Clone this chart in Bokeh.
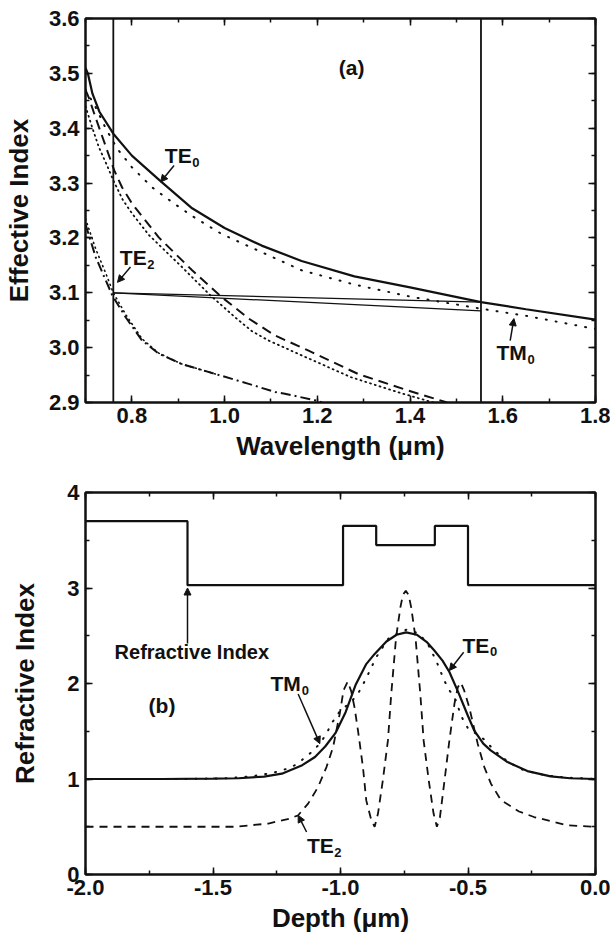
from bokeh.plotting import figure
from bokeh.layouts import column
from bokeh.models import (LinearAxis, SingleIntervalTicker, Range1d, Span, Label,
                          Arrow, NormalHead, NumeralTickFormatter, CustomJSTickFormatter)
from bokeh.embed import file_html
from bokeh.resources import INLINE

# ---------------- panel (a): effective index vs wavelength ----------------
te0_wl = [0.70, 0.705, 0.715, 0.73, 0.76, 0.80, 0.86, 0.93, 1.00, 1.08, 1.166, 1.28, 1.40, 1.553, 1.65, 1.80]
te0_n = [3.51, 3.50, 3.463, 3.43, 3.39, 3.35, 3.305, 3.254, 3.218, 3.186, 3.158, 3.13, 3.11, 3.083, 3.07, 3.051]

tm0_wl = [0.70, 0.722, 0.744, 0.769, 0.801, 0.844, 0.887, 0.93, 0.994, 1.08, 1.166, 1.28, 1.40, 1.553, 1.65, 1.80]
tm0_n = [3.47, 3.438, 3.399, 3.362, 3.328, 3.292, 3.265, 3.24, 3.207, 3.174, 3.141, 3.115, 3.093, 3.071, 3.058, 3.034]

te1_wl = [0.70, 0.708, 0.719, 0.729, 0.762, 0.779, 0.801, 0.858, 0.93, 0.994, 1.052, 1.109, 1.18, 1.288, 1.395, 1.48]
te1_n = [3.47, 3.454, 3.426, 3.402, 3.323, 3.292, 3.262, 3.201, 3.141, 3.092, 3.053, 3.022, 2.995, 2.952, 2.922, 2.90]

tm1_wl = [0.70, 0.715, 0.729, 0.745, 0.76, 0.78, 0.80, 0.837, 0.908, 0.966, 1.023, 1.059, 1.095, 1.166, 1.273, 1.381, 1.45]
tm1_n = [3.44, 3.40, 3.365, 3.335, 3.305, 3.27, 3.245, 3.205, 3.147, 3.098, 3.055, 3.03, 3.013, 2.986, 2.946, 2.917, 2.90]

te2_wl = [0.70, 0.722, 0.744, 0.758, 0.787, 0.822, 0.858, 0.908, 0.98, 1.052, 1.109, 1.13, 1.195, 1.21]
te2_n = [3.225, 3.165, 3.122, 3.095, 3.055, 3.013, 2.989, 2.970, 2.952, 2.934, 2.919, 2.916, 2.904, 2.90]

tm2_wl = [0.70, 0.722, 0.744, 0.76, 0.787, 0.822, 0.858, 0.908, 0.98]
tm2_n = [3.235, 3.18, 3.135, 3.10, 3.06, 3.016, 2.99, 2.970, 2.952]

thin_a_wl = [0.76, 1.553]
thin_a_n = [3.100, 3.083]
thin_b_wl = [0.76, 1.553]
thin_b_n = [3.100, 3.067]

marker_wavelengths = [0.76, 1.553]

# ---------------- panel (b): refractive index / fields vs depth ----------------
profile_depth = [-2.0, -1.6, -1.6, -0.99, -0.99, -0.86, -0.86, -0.63, -0.63, -0.50, -0.50, 0.0]
profile_index = [3.70, 3.70, 3.03, 3.03, 3.65, 3.65, 3.45, 3.45, 3.65, 3.65, 3.03, 3.03]

te0b_depth = [-2.0, -1.7, -1.5, -1.4, -1.3, -1.23, -1.15, -1.10, -1.06, -1.02, -0.98, -0.94, -0.90, -0.866,
              -0.82, -0.78, -0.743, -0.70, -0.66, -0.632, -0.60, -0.573, -0.54, -0.50, -0.476, -0.44,
              -0.411, -0.345, -0.267, -0.176, -0.10, 0.0]
te0b_val = [1.0, 1.0, 1.003, 1.008, 1.025, 1.056, 1.145, 1.23, 1.34, 1.48, 1.70, 1.99, 2.20, 2.31,
            2.44, 2.51, 2.536, 2.51, 2.43, 2.345, 2.24, 2.12, 1.92, 1.66, 1.51, 1.37,
            1.30, 1.177, 1.083, 1.028, 1.008, 1.0]

tm0b_depth = [-2.0, -1.6, -1.45, -1.35, -1.27, -1.23, -1.19, -1.153, -1.114, -1.081, -1.055, -1.036, -1.0,
              -0.96, -0.93, -0.90, -0.86, -0.81, -0.74, -0.69, -0.655, -0.625, -0.593, -0.573, -0.547,
              -0.527, -0.50, -0.46, -0.43, -0.404, -0.365, -0.325, -0.286, -0.251, -0.20, -0.12, 0.0]
tm0b_val = [1.0, 1.0, 1.008, 1.028, 1.062, 1.09, 1.125, 1.195, 1.28, 1.37, 1.474, 1.578, 1.72,
            1.80, 1.90, 2.05, 2.275, 2.48, 2.565, 2.52, 2.40, 2.24, 2.03, 1.93, 1.82,
            1.66, 1.53, 1.46, 1.40, 1.317, 1.223, 1.153, 1.098, 1.073, 1.04, 1.015, 1.0]

te2b_depth = [-2.0, -1.5, -1.414, -1.283, -1.2, -1.166, -1.127, -1.088, -1.055, -1.029, -1.003, -0.988,
              -0.972, -0.958, -0.945, -0.931, -0.912, -0.899, -0.879, -0.866, -0.853, -0.834, -0.814,
              -0.801, -0.782, -0.765, -0.755, -0.744, -0.733, -0.723, -0.706, -0.687, -0.674, -0.654,
              -0.635, -0.622, -0.610, -0.592, -0.573, -0.553, -0.540, -0.528, -0.515, -0.495, -0.462,
              -0.436, -0.41, -0.371, -0.30, -0.241, -0.11, 0.0]
te2b_val = [0.5, 0.5, 0.50, 0.533, 0.585, 0.62, 0.742, 0.916, 1.125, 1.334, 1.683, 1.93,
            2.02, 1.92, 1.75, 1.50, 1.125, 0.776, 0.567, 0.50, 0.638, 0.986, 1.404,
            1.89, 2.484, 2.80, 2.93, 2.97, 2.93, 2.80, 2.484, 1.89, 1.404, 0.986,
            0.638, 0.50, 0.60, 0.986, 1.404, 1.79, 1.96, 2.01, 1.927, 1.75, 1.37,
            1.125, 0.951, 0.78, 0.66, 0.602, 0.515, 0.5]

FONT = "Liberation Sans"
INK = "#111111"


def style_axes(p, xint, yint, xfmt, yfmt, x_minor, y_minor, ylab_standoff):
    blank = CustomJSTickFormatter(code="return ''")
    for side, interval, minor, fmt in (("below", xint, x_minor, xfmt), ("above", xint, x_minor, None),
                                       ("left", yint, y_minor, yfmt), ("right", yint, y_minor, None)):
        if side in ("below", "left"):
            ax = p.xaxis[0] if side == "below" else p.yaxis[0]
            ax.ticker = SingleIntervalTicker(interval=interval, num_minor_ticks=minor)
            ax.formatter = fmt
        else:
            ax = LinearAxis(ticker=SingleIntervalTicker(interval=interval, num_minor_ticks=minor),
                            formatter=blank)
            p.add_layout(ax, side)
            ax.major_label_standoff = 0
        ax.axis_line_color = INK
        ax.axis_line_width = 2
        ax.major_tick_in = 7
        ax.major_tick_out = 0
        ax.minor_tick_in = 4
        ax.minor_tick_out = 0
        ax.major_tick_line_color = INK
        ax.major_tick_line_width = 1.5
        ax.minor_tick_line_color = INK
        ax.minor_tick_line_width = 1.5
        ax.major_label_text_font = FONT
        ax.major_label_text_font_style = "bold"
        ax.major_label_text_font_size = "22px"
        ax.major_label_text_color = INK
        ax.axis_label_text_font = FONT
        ax.axis_label_text_font_style = "bold"
        ax.axis_label_text_font_size = "26px"
        ax.axis_label_text_color = INK
    p.xaxis[0].major_label_standoff = 7
    p.xaxis[0].axis_label_standoff = 5
    p.yaxis[0].major_label_standoff = 6
    p.yaxis[0].axis_label_standoff = ylab_standoff
    p.xgrid.visible = False
    p.ygrid.visible = False
    p.outline_line_color = INK
    p.outline_line_width = 2
    p.background_fill_color = "white"
    p.border_fill_color = "white"


def label(p, x, y, text, size="21px", align="center", baseline="middle"):
    p.add_layout(Label(x=x, y=y, text=text, text_font=FONT, text_font_style="bold",
                       text_font_size=size, text_align=align, text_baseline=baseline,
                       text_color=INK))


def sublabel(p, x, y, main, sub, offset):
    label(p, x, y, main)
    p.add_layout(Label(x=x, y=y, text=sub, text_font=FONT, text_font_style="bold",
                       text_font_size="13px", text_align="left", text_baseline="top",
                       x_offset=offset, y_offset=-2, text_color=INK))


def arrow(p, x0, y0, x1, y1):
    p.add_layout(Arrow(x_start=x0, y_start=y0, x_end=x1, y_end=y1, line_width=1.5, line_color=INK,
                       end=NormalHead(size=7, fill_color=INK, line_color=INK)))


# ---- figure (a)
p1 = figure(width=610, height=470, x_range=Range1d(0.7, 1.8), y_range=Range1d(2.9, 3.6),
            output_backend="svg", toolbar_location=None,
            min_border_left=83, min_border_right=15, min_border_top=18, min_border_bottom=68)
p1.xaxis.axis_label = "Wavelength (μm)"
p1.yaxis.axis_label = "Effective Index"
style_axes(p1, 0.2, 0.1, NumeralTickFormatter(format="0.0"), NumeralTickFormatter(format="0.0"), 2, 2, 12)

for wl in marker_wavelengths:
    p1.add_layout(Span(location=wl, dimension="height", line_color=INK, line_width=1.8))

p1.line(thin_a_wl, thin_a_n, line_color=INK, line_width=1.3)
p1.line(thin_b_wl, thin_b_n, line_color=INK, line_width=1.3)
p1.line(te0_wl, te0_n, line_color=INK, line_width=2.2)
p1.line(tm0_wl, tm0_n, line_color=INK, line_width=2, line_dash="1 9", line_cap="round")
p1.line(te1_wl, te1_n, line_color=INK, line_width=2, line_dash="10 6")
p1.line(tm1_wl, tm1_n, line_color=INK, line_width=1.8, line_dash="1 4", line_cap="round")
p1.line(te2_wl, te2_n, line_color=INK, line_width=2, line_dash="10 4 2 4")
p1.line(tm2_wl, tm2_n, line_color=INK, line_width=1.6, line_dash="1 4", line_cap="round")

sublabel(p1, 0.900, 3.350, "TE", "0", 14)
arrow(p1, 0.891, 3.332, 0.862, 3.302)
sublabel(p1, 0.803, 3.164, "TE", "2", 14)
arrow(p1, 0.797, 3.147, 0.769, 3.119)
sublabel(p1, 1.619, 2.991, "TM", "0", 16)
arrow(p1, 1.616, 3.013, 1.624, 3.053)
label(p1, 1.274, 3.511, "(a)")

# ---- figure (b)
p2 = figure(width=610, height=471, x_range=Range1d(-2.0, 0.0), y_range=Range1d(0, 4),
            output_backend="svg", toolbar_location=None,
            min_border_left=83, min_border_right=15, min_border_top=22, min_border_bottom=67)
p2.xaxis.axis_label = "Depth (μm)"
p2.yaxis.axis_label = "Refractive Index"
style_axes(p2, 0.5, 1, NumeralTickFormatter(format="0.0"), NumeralTickFormatter(format="0"), 2, 2, 24)

p2.line(profile_depth, profile_index, line_color=INK, line_width=2.2)
p2.line(te2b_depth, te2b_val, line_color=INK, line_width=1.8, line_dash="8 6")
p2.line(tm0b_depth, tm0b_val, line_color=INK, line_width=2, line_dash="1 9", line_cap="round")
p2.line(te0b_depth, te0b_val, line_color=INK, line_width=2.2)

arrow(p2, -1.60, 2.42, -1.60, 3.0)
label(p2, -1.583, 2.327, "Refractive Index", size="20px")
label(p2, -1.70, 1.77, "(b)")
sublabel(p2, -1.215, 2.0, "TM", "0", 16)
arrow(p2, -1.166, 1.89, -1.081, 1.37)
sublabel(p2, -0.469, 2.40, "TE", "0", 14)
arrow(p2, -0.517, 2.327, -0.573, 2.136)
sublabel(p2, -1.079, 0.301, "TE", "2", 14)
arrow(p2, -1.133, 0.445, -1.166, 0.62)

layout = column(p1, p2, spacing=0)
open("out.html", "w").write(file_html(layout, INLINE))
